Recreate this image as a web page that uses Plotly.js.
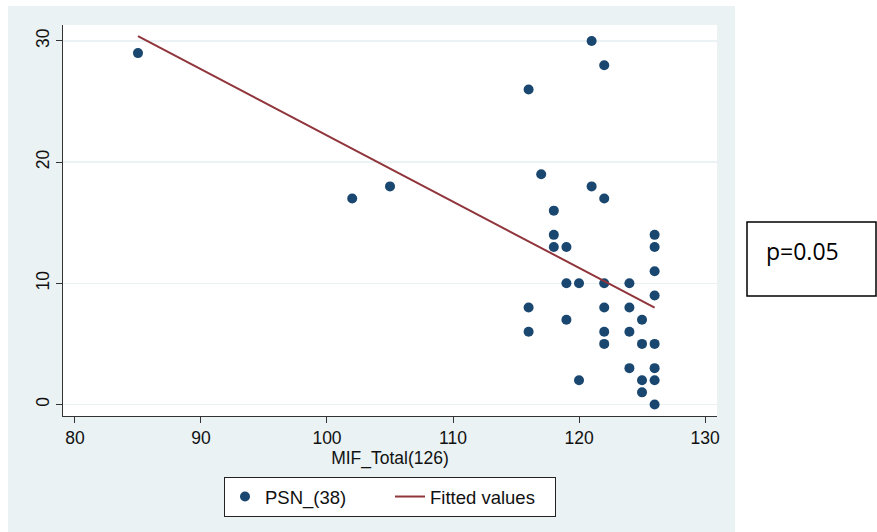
<!DOCTYPE html>
<html>
<head>
<meta charset="utf-8">
<script src="https://cdn.plot.ly/plotly-3.0.1.min.js"></script>
<style>html,body{margin:0;padding:0;background:#fff;}#chart{width:877px;height:532px;}</style>
</head>
<body>
<div id="chart"></div>
<script>
// MIF_Total(126) vs PSN_(38)
const mifTotal = [85,102,105,116,121,122,117,121,122,118,118,118,119,126,126,126,119,120,122,124,126,116,122,124,119,125,116,122,124,122,125,126,124,126,120,125,126,125,126];
const psn      = [29,17,18,26,30,28,19,18,17,16,14,13,13,14,13,11,10,10,10,10,9,8,8,8,7,7,6,6,6,5,5,5,3,3,2,2,2,1,0];
// Fitted values (endpoints)
const fitX = [85,126];
const fitY = [30.4,8.0];
const xTicks = [80,90,100,110,120,130];
const yTicks = [0,10,20,30];
const seriesNames = ['PSN_(38)','Fitted values'];
const xTitle = 'MIF_Total(126)';
const noteText = 'p=0.05';

const navy = '#1a476f', maroon = '#90353b', stataBg = '#eaf2f3';
const font = 'Liberation Sans, Arial, sans-serif';

const traces = [
  {x: mifTotal, y: psn, type: 'scatter', mode: 'markers', name: seriesNames[0],
   marker: {color: navy, size: 10, line: {width: 0}}},
  {x: fitX, y: fitY, type: 'scatter', mode: 'lines', name: seriesNames[1],
   line: {color: maroon, width: 2}}
];

const L = 63, R = 717, T = 25, B = 416, W = 877, H = 532;
const pw = R - L, ph = B - T;
const px = v => (v - L) / pw;
const py = v => (B - v) / ph;

const layout = {
  width: W, height: H,
  margin: {l: L, r: W - R, t: T, b: H - B, pad: 0},
  paper_bgcolor: '#ffffff',
  plot_bgcolor: '#ffffff',
  font: {family: font, color: '#000', size: 17},
  showlegend: true,
  xaxis: {
    range: [79.05, 130.95], tickvals: xTicks, ticktext: xTicks.map(String),
    showgrid: false, zeroline: false, showline: true, linecolor: '#333', linewidth: 1,
    ticks: 'outside', ticklen: 6, tickcolor: '#333', tickwidth: 1,
    tickfont: {size: 17.5, family: font, color: '#111'},
    title: {text: xTitle, font: {size: 17.5, family: font, color: '#111'}, standoff: 2}
  },
  yaxis: {
    range: [-0.95, 31.32], tickvals: yTicks, ticktext: yTicks.map(String),
    showgrid: true, gridcolor: stataBg, gridwidth: 1.5, zeroline: false,
    showline: true, linecolor: '#333', linewidth: 1,
    ticks: 'outside', ticklen: 6, tickcolor: '#333', tickwidth: 1, tickangle: -90,
    tickfont: {size: 17.5, family: font, color: '#111'}
  },
  legend: {
    orientation: 'h', x: 0.5, xanchor: 'center', y: py(477), yanchor: 'top',
    bgcolor: '#ffffff', bordercolor: '#222', borderwidth: 1,
    font: {size: 18.5, family: font, color: '#111'}, itemwidth: 30,
    entrywidth: 120, entrywidthmode: 'pixels'
  },
  shapes: [
    {type: 'rect', xref: 'paper', yref: 'paper', layer: 'below',
     x0: px(8), x1: px(735), y0: py(532), y1: py(6),
     fillcolor: stataBg, line: {width: 0}},
    {type: 'rect', xref: 'paper', yref: 'paper', layer: 'below',
     x0: 0, x1: 1, y0: 0, y1: 1, fillcolor: '#ffffff', line: {width: 0}},
    {type: 'rect', xref: 'paper', yref: 'paper', layer: 'above',
     x0: px(747), x1: px(876), y0: py(296), y1: py(222),
     fillcolor: 'rgba(0,0,0,0)', line: {color: '#000', width: 1.5}}
  ],
  annotations: [
    {xref: 'paper', yref: 'paper', x: px(764), y: py(251), xanchor: 'left', yanchor: 'middle',
     text: noteText, showarrow: false, font: {family: 'Open Sans, Noto Sans, sans-serif', size: 23, color: '#000'}}
  ]
};

Plotly.newPlot('chart', traces, layout, {displayModeBar: false, staticPlot: true});
</script>
</body>
</html>
